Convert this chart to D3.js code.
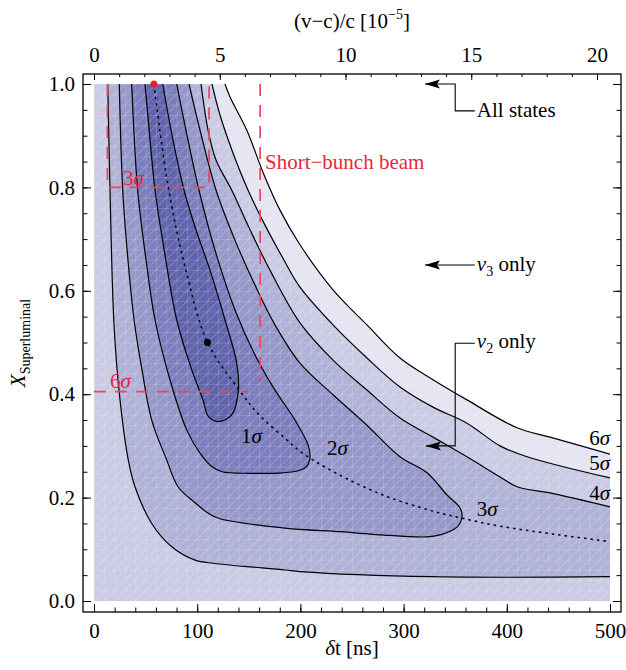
<!DOCTYPE html>
<html>
<head>
<meta charset="utf-8">
<script src="https://cdn.jsdelivr.net/npm/d3@7"></script>
<style>
body { margin: 0; background: #fff; }
text { font-family: "Liberation Serif", "Times New Roman", serif; }
</style>
</head>
<body>
<div id="chart"></div>
<script>
// axis ticks
var dtTicks = [0, 100, 200, 300, 400, 500];
var dtMinor = d3.range(0, 501, 20);
var xsTicks = [0, 0.2, 0.4, 0.6, 0.8, 1.0];
var xsMinor = d3.range(0, 1.0001, 0.05);
var topTicks = [0, 5, 10, 15, 20];
var topMinor = d3.range(0, 21, 1);
var nsPerTopUnit = 24.37;   // (v-c)/c of 1e-5 in ns

// contours [dt (ns), X_superluminal]
var sigma1 = [[49.4,1.0],[54.3,0.892],[59.1,0.795],[68.8,0.669],[80.1,0.544],[94.7,0.447],[105.6,0.389],
  [110.8,0.357],[120.4,0.347],[133.4,0.36],[139.8,0.405],[138.3,0.46],[126.9,0.544],[112.4,0.64],
  [98.8,0.718],[87.2,0.795],[75.6,0.901],[66.6,1.0]];
var sigma2 = [[36.5,1.0],[42.3,0.795],[50.4,0.66],[59.1,0.544],[73.6,0.428],[89.8,0.331],[102.7,0.286],
  [114.1,0.26],[124,0.25],[151.2,0.247],[183.1,0.248],[199.6,0.253],[206.4,0.261],[209.3,0.279],
  [207.4,0.302],[194.8,0.35],[175.4,0.408],[156,0.476],[136.6,0.563],[117.2,0.679],[101.7,0.795],
  [89.1,0.911],[80.1,1.0]];
var sigma3 = [[24.5,1.0],[27.8,0.795],[32.9,0.66],[38.8,0.544],[46.5,0.447],[55.9,0.35],[70.4,0.273],
  [81.4,0.221],[97.9,0.19],[110.5,0.17],[122.1,0.159],[185.1,0.141],[238.4,0.134],[277.1,0.128],
  [322.7,0.124],[335.3,0.128],[351.7,0.143],[356.6,0.163],[354.7,0.18],[342.1,0.205],[322.7,0.248],
  [296.5,0.279],[264.5,0.34],[231.6,0.399],[199.6,0.46],[175.4,0.534],[156,0.611],[136.6,0.698],
  [118.2,0.795],[102.7,0.911],[92.1,1.0]];
var sigma4Left = [[13.3,1.0],[15.5,0.795],[19.4,0.534],[25.2,0.389],[33.2,0.273],[39.7,0.221],
  [55.9,0.15],[75.3,0.105],[97.9,0.079],[110.8,0.074],[185.1,0.06],[199.6,0.057],[328.5,0.047],[500,0.047]];
var sigma4Right = [[103.7,1.0],[110.5,0.911],[118.2,0.853],[133.4,0.795],[151.2,0.718],[170.5,0.64],
  [199.6,0.538],[231.6,0.466],[264.5,0.408],[296.5,0.354],[328.5,0.317],[361.4,0.279],[393.4,0.24],
  [409.9,0.221],[441.9,0.209],[500,0.182]];
var sigma5 = [[114.3,1.0],[122.1,0.94],[133.7,0.872],[149.2,0.795],[165.7,0.727],[183.1,0.663],
  [199.6,0.607],[231.6,0.534],[264.5,0.47],[296.5,0.414],[328.5,0.375],[361.4,0.344],[393.4,0.3],
  [419.6,0.279],[500,0.238]];
var sigma6 = [[126.9,1.0],[131.8,0.975],[148,0.911],[164,0.828],[180.2,0.756],[199.6,0.689],
  [231.6,0.602],[264.5,0.534],[296.5,0.47],[328.5,0.428],[361.4,0.389],[409.9,0.335],[441.9,0.317],[500,0.284]];

// dotted curve and points
var dottedCurve = [[58,1.0],[72,0.8],[89,0.64],[110,0.5],[140,0.41],[160,0.36],[185,0.315],[200,0.289],
  [232,0.25],[280,0.205],[330,0.173],[357,0.16],[393,0.145],[450,0.128],[500,0.115]];
var bestFit = [110, 0.5];
var bunchPoint = [58, 1.0];

// red dashed constraints
var box3s = [[13,1.0],[13,0.8],[111.5,0.8],[111.5,1.0]];
var line6s = [[0,0.405],[149,0.405]];
var shortBunch = [[161,1.0],[161,0.424]];

// labels, anchored in data units
var sigmaLabels = [
  {n:"1", at:[142.4,0.306], anchor:"start"},
  {n:"2", at:[225.8,0.282], anchor:"start"},
  {n:"3", at:[371,0.164], anchor:"start"},
  {n:"6", at:[500,0.302], anchor:"end"},
  {n:"5", at:[500,0.253], anchor:"end"},
  {n:"4", at:[500,0.195], anchor:"end"}
];
var redLabels = [{n:"3", at:[28.1,0.805]}, {n:"6", at:[15.5,0.412]}];

var arrows = [
  {pts:[[369,0.948],[350,0.948],[350,1.0],[320.7,1.0]], text:"All states", nu:null, at:[371,0.937]},
  {pts:[[369,0.65],[320.7,0.65]], text:" only", nu:"3", at:[371,0.638]},
  {pts:[[369,0.4985],[350,0.4985],[350,0.30],[321.7,0.30]], text:" only", nu:"2", at:[371,0.489]}
];

var colors = ["#6064ad", "#7b7ebc", "#9597c9", "#b0b1d7", "#cacae4", "#e4e4f2"];

var W = 626, H = 670;
var frame = {l: 83, t: 74, r: 621, b: 612};

var svg = d3.select("#chart").append("svg")
  .attr("width", W)
  .attr("height", H);

var x = d3.scaleLinear().domain([0, 500]).range([94, 610]);
var y = d3.scaleLinear().domain([0, 1]).range([601, 84]);
var xTop = d3.scaleLinear().domain([0, 20]).range([x(0), x(20 * nsPerTopUnit)]);

var defs = svg.append("defs");
defs.append("clipPath").attr("id", "plotClip")
  .append("rect")
  .attr("x", x(0)).attr("y", y(1))
  .attr("width", x(500) - x(0)).attr("height", y(0) - y(1));

var cw = x(10) - x(0), ch = y(0) - y(0.02);
var pat = defs.append("pattern").attr("id", "mesh")
  .attr("patternUnits", "userSpaceOnUse")
  .attr("x", x(0)).attr("y", y(1))
  .attr("width", cw).attr("height", ch);
pat.append("path")
  .attr("d", "M0,0V" + ch + "M0,0H" + cw + "M0," + ch + "L" + cw + ",0")
  .attr("stroke", "#fff").attr("stroke-opacity", 0.4).attr("stroke-width", 0.7).attr("fill", "none");

var line = d3.line()
  .x(function(d) { return x(d[0]); })
  .y(function(d) { return y(d[1]); })
  .curve(d3.curveCatmullRom.alpha(0.5));

function closed(pts, extra) {
  return line(pts) + extra.map(function(p) { return "L" + x(p[0]) + "," + y(p[1]); }).join("") + "Z";
}

var plot = svg.append("g").attr("clip-path", "url(#plotClip)");

// filled bands
plot.append("rect")
  .attr("x", x(0)).attr("y", y(1))
  .attr("width", x(500) - x(0)).attr("height", y(0) - y(1))
  .attr("fill", colors[4]);
plot.append("path").attr("d", closed(sigma5, [[500, 1]])).attr("fill", colors[5]);
plot.append("path")
  .attr("d", line(sigma4Left) + line(sigma4Right.slice().reverse()).replace(/^M/, "L") + "Z")
  .attr("fill", colors[3]);
plot.append("path").attr("d", closed(sigma3, [])).attr("fill", colors[2]);
plot.append("path").attr("d", closed(sigma2, [])).attr("fill", colors[1]);
plot.append("path").attr("d", closed(sigma1, [])).attr("fill", colors[0]);
plot.append("rect")
  .attr("x", x(0)).attr("y", y(1))
  .attr("width", x(500) - x(0)).attr("height", y(0) - y(1))
  .attr("fill", "url(#mesh)");
plot.append("path").attr("d", closed(sigma6, [[500, 1]])).attr("fill", "#fff");

// contour lines
[sigma1, sigma2, sigma3, sigma4Left, sigma4Right, sigma5, sigma6].forEach(function(c) {
  plot.append("path")
    .attr("d", line(c))
    .attr("fill", "none")
    .attr("stroke", "#000")
    .attr("stroke-width", 1.2);
});

plot.append("path")
  .attr("d", line(dottedCurve))
  .attr("fill", "none")
  .attr("stroke", "#000")
  .attr("stroke-width", 1.5)
  .attr("stroke-dasharray", "2.5,4");

// red dashed lines
var straight = d3.line().x(function(d) { return x(d[0]); }).y(function(d) { return y(d[1]); });
[box3s, line6s, shortBunch].forEach(function(c) {
  svg.append("path")
    .attr("d", straight(c))
    .attr("fill", "none")
    .attr("stroke", "#ea4656")
    .attr("stroke-width", 1.7)
    .attr("stroke-dasharray", "12,9");
});

svg.append("circle").attr("cx", x(bunchPoint[0])).attr("cy", y(bunchPoint[1])).attr("r", 3.5).attr("fill", "#e3202c");
svg.append("circle").attr("cx", x(bestFit[0])).attr("cy", y(bestFit[1])).attr("r", 3.5).attr("fill", "#000");

// sigma labels
sigmaLabels.forEach(function(d) {
  var t = svg.append("text")
    .attr("x", x(d.at[0])).attr("y", y(d.at[1]))
    .attr("text-anchor", d.anchor)
    .attr("font-size", 21);
  t.append("tspan").text(d.n);
  t.append("tspan").attr("font-style", "italic").text("σ");
});
redLabels.forEach(function(d) {
  var t = svg.append("text")
    .attr("x", x(d.at[0])).attr("y", y(d.at[1]))
    .attr("font-size", 21)
    .attr("fill", "#e8283a");
  t.append("tspan").text(d.n);
  t.append("tspan").attr("font-style", "italic").text("σ");
});
svg.append("text")
  .attr("x", x(165.7)).attr("y", y(0.8356))
  .attr("font-size", 21)
  .attr("fill", "#e8283a")
  .text("Short−bunch beam");

// annotation arrows
arrows.forEach(function(a) {
  svg.append("path")
    .attr("d", straight(a.pts))
    .attr("fill", "none")
    .attr("stroke", "#000")
    .attr("stroke-width", 1.1);
  var tip = a.pts[a.pts.length - 1];
  var tx = x(tip[0]), ty = y(tip[1]);
  svg.append("path")
    .attr("d", "M" + tx + "," + ty + "l15,-4.5l-3,4.5l3,4.5z")
    .attr("fill", "#000");
  var t = svg.append("text")
    .attr("x", x(a.at[0])).attr("y", y(a.at[1]))
    .attr("font-size", 21);
  if (a.nu) {
    t.append("tspan").attr("font-style", "italic").text("ν");
    t.append("tspan").attr("font-size", 14).attr("dy", 5).text(a.nu);
    t.append("tspan").attr("dy", -5).text(a.text);
  } else {
    t.text(a.text);
  }
});

// frame and axes
svg.append("rect")
  .attr("x", frame.l).attr("y", frame.t)
  .attr("width", frame.r - frame.l).attr("height", frame.b - frame.t)
  .attr("fill", "none").attr("stroke", "#000").attr("stroke-width", 1.3);

function styleAxis(g) {
  g.select(".domain").remove();
  g.selectAll("line").attr("stroke", "#000").attr("stroke-width", 1);
  g.selectAll("text")
    .attr("font-family", "Liberation Serif, serif")
    .attr("font-size", 21)
    .attr("fill", "#000");
}

svg.append("g").attr("transform", "translate(0," + frame.b + ")")
  .call(d3.axisBottom(x).tickValues(dtMinor).tickSize(-4.5).tickFormat("")).call(styleAxis);
svg.append("g").attr("transform", "translate(0," + frame.b + ")")
  .call(d3.axisBottom(x).tickValues(dtTicks).tickSize(-8).tickPadding(11).tickFormat(d3.format("d"))).call(styleAxis);

svg.append("g").attr("transform", "translate(" + frame.l + ",0)")
  .call(d3.axisLeft(y).tickValues(xsMinor).tickSize(-4.5).tickFormat("")).call(styleAxis);
svg.append("g").attr("transform", "translate(" + frame.l + ",0)")
  .call(d3.axisLeft(y).tickValues(xsTicks).tickSize(-8).tickPadding(8).tickFormat(d3.format(".1f"))).call(styleAxis);

svg.append("g").attr("transform", "translate(" + frame.r + ",0)")
  .call(d3.axisRight(y).tickValues(xsMinor).tickSize(-4.5).tickFormat("")).call(styleAxis);
svg.append("g").attr("transform", "translate(" + frame.r + ",0)")
  .call(d3.axisRight(y).tickValues(xsTicks).tickSize(-8).tickFormat("")).call(styleAxis);

svg.append("g").attr("transform", "translate(0," + frame.t + ")")
  .call(d3.axisTop(xTop).tickValues(topMinor).tickSize(-3).tickFormat("")).call(styleAxis);
svg.append("g").attr("transform", "translate(0," + frame.t + ")")
  .call(d3.axisTop(xTop).tickValues(topTicks).tickSize(-6).tickPadding(12).tickFormat(d3.format("d"))).call(styleAxis);

// axis titles
var cx = (frame.l + frame.r) / 2;
var bt = svg.append("text").attr("x", cx).attr("y", 655).attr("text-anchor", "middle").attr("font-size", 21);
bt.append("tspan").attr("font-style", "italic").text("δ");
bt.append("tspan").text("t [ns]");

var tt = svg.append("text").attr("x", cx).attr("y", 28).attr("text-anchor", "middle").attr("font-size", 21);
tt.append("tspan").text("(v−c)/c [10");
tt.append("tspan").attr("font-size", 14).attr("dy", -9).text("−5");
tt.append("tspan").attr("dy", 9).text("]");

var lt = svg.append("text")
  .attr("transform", "translate(25," + ((frame.t + frame.b) / 2) + ") rotate(-90)")
  .attr("text-anchor", "middle")
  .attr("font-size", 21);
lt.append("tspan").attr("font-style", "italic").text("X");
lt.append("tspan").attr("font-size", 14).attr("dy", 5).text("Superluminal");
</script>
</body>
</html>
